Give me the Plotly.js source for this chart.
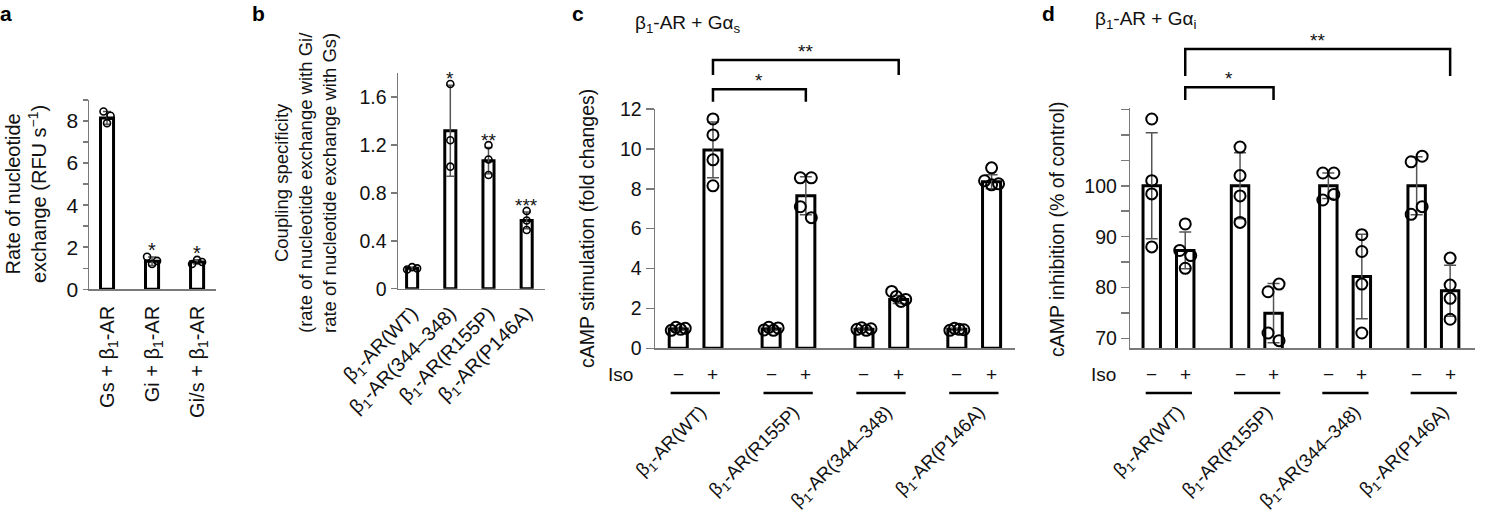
<!DOCTYPE html>
<html>
<head>
<meta charset="utf-8">
<script src="https://cdn.plot.ly/plotly-3.0.1.min.js"></script>
<style>
  html, body { margin: 0; padding: 0; background: white; }
  #fig { width: 1500px; height: 515px; }
</style>
</head>
<body>
<div id="fig"></div>
<script>
// ---- panel a: nucleotide exchange rates
var aLabels = ['Gs + β<sub>1</sub>-AR', 'Gi + β<sub>1</sub>-AR', 'Gi/s + β<sub>1</sub>-AR'];
var aMeans = [8.15, 1.33, 1.3];
var aSD = [0.3, 0.2, 0.1];
var aPoints = [[8.45, 7.9, 8.25], [1.55, 1.2, 1.35], [1.2, 1.4, 1.3]];
var aStars = ['', '*', '*'];

// ---- panel b: coupling specificity
var bLabels = ['β<sub>1</sub>-AR(WT)', 'β<sub>1</sub>-AR(344–348)', 'β<sub>1</sub>-AR(R155P)', 'β<sub>1</sub>-AR(P146A)'];
var bMeans = [0.17, 1.32, 1.07, 0.57];
var bSD = [0.01, 0.38, 0.11, 0.07];
var bPoints = [[0.16, 0.18, 0.17], [1.71, 1.24, 1.02], [1.2, 1.08, 0.95], [0.65, 0.57, 0.49]];
var bStars = ['', '*', '**', '***'];

// ---- panels c and d share groups
var groups = ['β<sub>1</sub>-AR(WT)', 'β<sub>1</sub>-AR(R155P)', 'β<sub>1</sub>-AR(344–348)', 'β<sub>1</sub>-AR(P146A)'];
var isoSigns = ['−', '+'];

// panel c: cAMP stimulation, Gαs
var cMinus = [0.97, 0.97, 0.96, 0.95];
var cPlus = [9.95, 7.65, 2.45, 8.35];
var cMinusSD = [0.07, 0.07, 0.06, 0.06];
var cPlusSD = [1.4, 0.95, 0.2, 0.35];
var cMinusPts = [[0.9, 1.05, 0.95, 1.0], [0.92, 1.05, 0.9, 1.02], [0.95, 1.03, 0.9, 0.98], [0.9, 1.0, 0.95, 0.93]];
var cPlusPts = [[11.5, 10.7, 9.45, 8.15], [8.55, 8.55, 7.1, 6.55], [2.85, 2.6, 2.35, 2.45], [9.05, 8.4, 8.2, 8.25]];
var cSigFrom = [0, 0];
var cSigTo = [1, 2];
var cSigText = ['*', '**'];

// panel d: cAMP inhibition, Gαi
var dMinus = [100, 100, 100, 100];
var dPlus = [87.3, 75.0, 82.2, 79.4];
var dMinusSD = [10.4, 6.5, 2.5, 5.7];
var dPlusSD = [3.6, 5.8, 8.3, 5.0];
var dMinusPts = [[113.1, 101, 98.4, 88], [107.6, 102, 98, 92.8], [102.5, 102.5, 97.2, 98.3], [104.7, 105.8, 94.4, 95.9]];
var dPlusPts = [[92.5, 87.3, 86.3, 83.8], [79.2, 80.7, 71.1, 69.6], [90.4, 87.1, 80.7, 71.1], [85.8, 80.5, 77.9, 73.8]];
var dSigFrom = [0, 0];
var dSigTo = [1, 3];
var dSigText = ['*', '**'];

var W = 1500, H = 515;
var FONT = '"Liberation Sans", Arial, Helvetica, sans-serif';
var AXC = '#7a7a7a';

// plot boxes in pixels
var P = {
  a: { id: '',  x0: 89,     x1: 216,  y0: 289.3, y1: 100,   xr: [-0.4, 2.42],  yr: [0, 9] },
  b: { id: '2', x0: 398,    x1: 545,  y0: 288.7, y1: 73.3,  xr: [-0.37, 3.48], yr: [0, 1.8] },
  c: { id: '3', x0: 655,    x1: 1015, y0: 348.3, y1: 109,   xr: [-0.67, 9.70], yr: [0, 12] },
  d: { id: '4', x0: 1130.3, x1: 1475, y0: 348.3, y1: 108.3, xr: [-0.64, 9.65], yr: [68.1, 115.2] }
};
Object.keys(P).forEach(function (k) {
  var p = P[k];
  p.pxX = (p.x1 - p.x0) / (p.xr[1] - p.xr[0]);
  p.pxY = (p.y0 - p.y1) / (p.yr[1] - p.yr[0]);
});
function fx(x) { return x / W; }
function fy(y) { return (H - y) / H; }
function font(size) { return { family: FONT, size: size, color: '#111' }; }

// spread points that would overlap vertically
function swarm(vals, pxY, diam, maxOff) {
  var idx = vals.map(function (v, i) { return i; }).sort(function (i, j) { return vals[i] - vals[j]; });
  var clusters = [], cur = [idx[0]];
  for (var k = 1; k < idx.length; k++) {
    if ((vals[idx[k]] - vals[idx[k - 1]]) * pxY < diam) cur.push(idx[k]);
    else { clusters.push(cur); cur = [idx[k]]; }
  }
  clusters.push(cur);
  var offs = vals.map(function () { return 0; });
  clusters.forEach(function (c) {
    if (c.length < 2) return;
    c.sort(function (a, b) { return a - b; });
    var sp = Math.min(diam, 2 * maxOff / (c.length - 1));
    c.forEach(function (i, m) { offs[i] = (m - (c.length - 1) / 2) * sp; });
  });
  return offs;
}

var traces = [];
function addBars(p, xs, means, sds, pts, st) {
  traces.push({
    type: 'bar', x: xs, y: means, width: st.barW,
    xaxis: 'x' + p.id, yaxis: 'y' + p.id,
    marker: { color: 'white', line: { color: 'black', width: 3 } },
    error_y: { type: 'data', array: sds, visible: true, color: '#555', thickness: 1.5, width: st.cap },
    hoverinfo: 'skip'
  });
  var px = [], py = [];
  pts.forEach(function (vals, i) {
    var offs = swarm(vals, p.pxY, st.diam, st.maxOff);
    vals.forEach(function (v, k) { px.push(xs[i] + offs[k] / p.pxX); py.push(v); });
  });
  traces.push({
    type: 'scatter', mode: 'markers', x: px, y: py,
    xaxis: 'x' + p.id, yaxis: 'y' + p.id, cliponaxis: false,
    marker: { symbol: 'circle-open', size: st.diam, color: 'black', line: { width: st.mlw } },
    hoverinfo: 'skip'
  });
}

var smallSt = { barW: 0.29, cap: 4, diam: 7, maxOff: 5, mlw: 1.6 };
addBars(P.a, aMeans.map(function (v, i) { return i; }), aMeans, aSD, aPoints, smallSt);
addBars(P.b, bMeans.map(function (v, i) { return i; }), bMeans, bSD, bPoints, smallSt);

var cStep = 2.675, dStep = 2.636;
var cMx = groups.map(function (g, i) { return i * cStep; });
var cPx = cMx.map(function (x) { return x + 1; });
var dMx = groups.map(function (g, i) { return i * dStep; });
var dPx = dMx.map(function (x) { return x + 1; });
var bigSt = { barW: 0.52, cap: 6, diam: 11, maxOff: 7, mlw: 2 };
addBars(P.c, cMx, cMinus, cMinusSD, cMinusPts, bigSt);
addBars(P.c, cPx, cPlus, cPlusSD, cPlusPts, bigSt);
addBars(P.d, dMx, dMinus, dMinusSD, dMinusPts, bigSt);
addBars(P.d, dPx, dPlus, dPlusSD, dPlusPts, bigSt);

function xAxis(p, vals, text, angle, standoff, size) {
  return {
    domain: [fx(p.x0), fx(p.x1)], range: p.xr, anchor: 'y' + p.id,
    showline: true, linecolor: AXC, linewidth: 1.5, ticks: '',
    tickvals: vals, ticktext: text, tickangle: angle, ticklabelstandoff: standoff,
    showgrid: false, zeroline: false, tickfont: font(size), fixedrange: true
  };
}
function yAxis(p, vals, text, len, size) {
  return {
    domain: [fy(p.y0), fy(p.y1)], range: p.yr, anchor: 'x' + p.id,
    showline: true, linecolor: AXC, linewidth: 1.5,
    ticks: 'outside', ticklen: len, tickwidth: 1.5, tickcolor: AXC,
    tickvals: vals, ticktext: text,
    showgrid: false, zeroline: false, tickfont: font(size), fixedrange: true
  };
}

var annotations = [];
var shapes = [];
function txt(x, y, text, size, opts) {
  var a = { xref: 'paper', yref: 'paper', x: fx(x), y: fy(y), text: text, showarrow: false,
    xanchor: 'center', yanchor: 'middle', font: font(size) };
  for (var k in opts) a[k] = opts[k];
  annotations.push(a);
}

// panel letters
[['a', 6], ['b', 258], ['c', 578], ['d', 1048]].forEach(function (l) {
  txt(l[1], 0, '<b>' + l[0] + '</b>', 21, { yanchor: 'top', font: { family: FONT, size: 21, color: '#000' } });
});

// titles
txt(633, 24, 'β<sub>1</sub>-AR + Gα<sub>s</sub>', 19, { xanchor: 'left' });
txt(1093, 20, 'β<sub>1</sub>-AR + Gα<sub>i</sub>', 19, { xanchor: 'left' });

// y titles
txt(26, 194, 'Rate of nucleotide<br>exchange (RFU s<sup>−1</sup>)', 20, { textangle: -90 });
txt(305, 183, 'Coupling specificity<br>(rate of nucleotide exchange with Gi/<br>rate of nucleotide exchange with Gs)', 18.5, { textangle: -90 });
txt(587, 229, 'cAMP stimulation (fold changes)', 19.5, { textangle: -90 });
txt(1057, 230, 'cAMP inhibition (% of control)', 19.5, { textangle: -90 });

// stars above single bars
function barStars(p, stars, means, sds, size) {
  stars.forEach(function (s, i) {
    if (!s) return;
    annotations.push({ xref: 'x' + p.id, yref: 'y' + p.id, x: i, y: means[i] + sds[i], text: s,
      showarrow: false, yanchor: 'bottom', yshift: -6, font: font(size) });
  });
}
barStars(P.a, aStars, aMeans, aSD, 20);
barStars(P.b, bStars, bMeans, bSD, 19);

// Iso row, underlines, brackets for c and d
function isoRow(p, mx, px, isoX, lineL, lineR, sigFrom, sigTo, sigText, levels) {
  txt(isoX, 374, 'Iso', 19);
  mx.forEach(function (x, g) {
    [x, px[g]].forEach(function (xx, s) {
      annotations.push({ xref: 'x' + p.id, yref: 'paper', x: xx, y: fy(374), text: isoSigns[s],
        showarrow: false, xanchor: 'center', yanchor: 'middle', font: font(19) });
    });
    shapes.push({ type: 'line', xref: 'x' + p.id, yref: 'paper', x0: x - lineL, x1: px[g] + lineR,
      y0: fy(393), y1: fy(393), line: { color: 'black', width: 2.5 } });
  });
  sigFrom.forEach(function (f, k) {
    var x1 = px[f], x2 = px[sigTo[k]], lv = levels[k];
    shapes.push({ type: 'path', xref: 'x' + p.id, yref: 'paper',
      path: 'M ' + x1 + ',' + fy(lv[1]) + ' L ' + x1 + ',' + fy(lv[0]) + ' L ' + x2 + ',' + fy(lv[0]) + ' L ' + x2 + ',' + fy(lv[1]),
      line: { color: 'black', width: 2.5 } });
    annotations.push({ xref: 'x' + p.id, yref: 'paper', x: (x1 + x2) / 2, y: fy(lv[0]), text: sigText[k],
      showarrow: false, xanchor: 'center', yanchor: 'bottom', yshift: -4, font: font(19) });
  });
}
isoRow(P.c, cMx, cPx, 620, 0.22, 0.2, cSigFrom, cSigTo, cSigText, [[89.3, 101.7], [60, 75]]);
isoRow(P.d, dMx, dPx, 1103, 0.18, 0.2, dSigFrom, dSigTo, dSigText, [[87.3, 100], [49, 76]]);

// group labels end a little left of the + bar
var cLab = cPx.map(function (x) { return x - 0.35; });
var dLab = dPx.map(function (x) { return x - 0.2; });

var layout = {
  width: W, height: H,
  margin: { l: 0, r: 0, t: 0, b: 0 },
  paper_bgcolor: 'white', plot_bgcolor: 'white',
  showlegend: false, barmode: 'overlay',
  font: font(18),
  xaxis: xAxis(P.a, [0, 1, 2], aLabels, -90, 7, 20),
  yaxis: yAxis(P.a, [0, 1, 2, 3, 4, 5, 6, 7, 8, 9], ['0', '', '2', '', '4', '', '6', '', '8', ''], 5, 21),
  xaxis2: xAxis(P.b, [0, 1, 2, 3], bLabels, -45, 4, 19.5),
  yaxis2: yAxis(P.b, [0, 0.4, 0.8, 1.2, 1.6], ['0', '0.4', '0.8', '1.2', '1.6'], 6, 19.5),
  xaxis3: xAxis(P.c, cLab, groups, -45, 44, 18.5),
  yaxis3: yAxis(P.c, [0, 2, 4, 6, 8, 10, 12], ['0', '2', '4', '6', '8', '10', '12'], 8, 19.5),
  xaxis4: xAxis(P.d, dLab, groups, -45, 44, 18.5),
  yaxis4: yAxis(P.d, [70, 75, 80, 85, 90, 95, 100, 105, 110, 115], ['70', '', '80', '', '90', '', '100', '', '', ''], 8, 19.5),
  annotations: annotations,
  shapes: shapes
};

Plotly.newPlot('fig', traces, layout, { staticPlot: true, displayModeBar: false });
</script>
</body>
</html>
